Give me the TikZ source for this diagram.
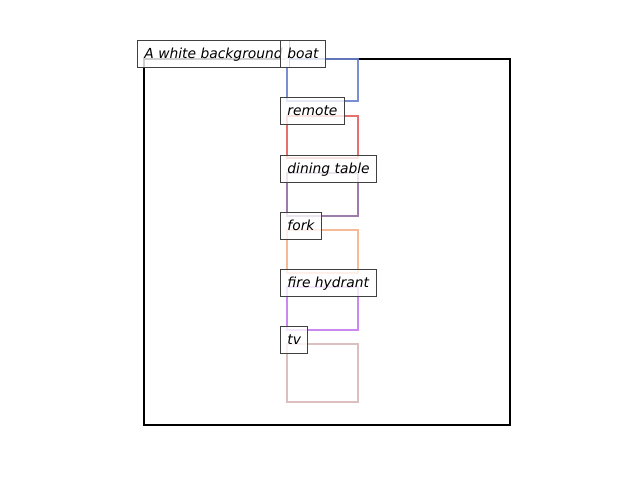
\documentclass[tikz,border=0pt]{standalone}
\usepackage{fontspec}
\setmainfont{DejaVu Sans}
\begin{document}
\begin{tikzpicture}[x=0.01in,y=-0.01in,
  region/.style={line width=1.5pt,draw opacity=0.9},
  tag/.style={draw=black!75,fill=white,fill opacity=0.8,text opacity=1,
    line width=0.7pt,anchor=west,inner xsep=5pt,inner ysep=0pt,
    text height=8pt,text depth=2.2pt,
    minimum height=20pt,font=\itshape\fontsize{10}{12}\selectfont}]
\useasboundingbox (0,0) rectangle (640,480);
\definecolor{cboat}{RGB}{108,130,204}
\definecolor{cremote}{RGB}{226,96,96}
\definecolor{ctable}{RGB}{146,110,162}
\definecolor{cfork}{RGB}{246,178,140}
\definecolor{chydrant}{RGB}{196,124,238}
\definecolor{ctv}{RGB}{216,184,184}

% whole image frame
\draw[line width=1.5pt] (144,59) rectangle (510,425);

% object regions
\draw[region,cboat]    (287,59)  rectangle (358,101);
\draw[region,cremote]  (287,116) rectangle (358,158);
\draw[region,ctable]   (287,173) rectangle (358,216);
\draw[region,cfork]    (287,230) rectangle (358,273);
\draw[region,chydrant] (287,287) rectangle (358,330);
\draw[region,ctv]      (287,344) rectangle (358,402);

% labels
\node[tag] (bg)      at (137,54)  {A white background};
\node[tag] (boat)    at (280,54)  {boat};
\node[tag] (remote)  at (280,111) {remote};
\node[tag] (table)   at (280,169) {dining table};
\node[tag] (fork)    at (280,226) {fork};
\node[tag] (hydrant) at (280,283) {fire hydrant};
\node[tag] (tv)      at (280,340) {tv};
\end{tikzpicture}
\end{document}
